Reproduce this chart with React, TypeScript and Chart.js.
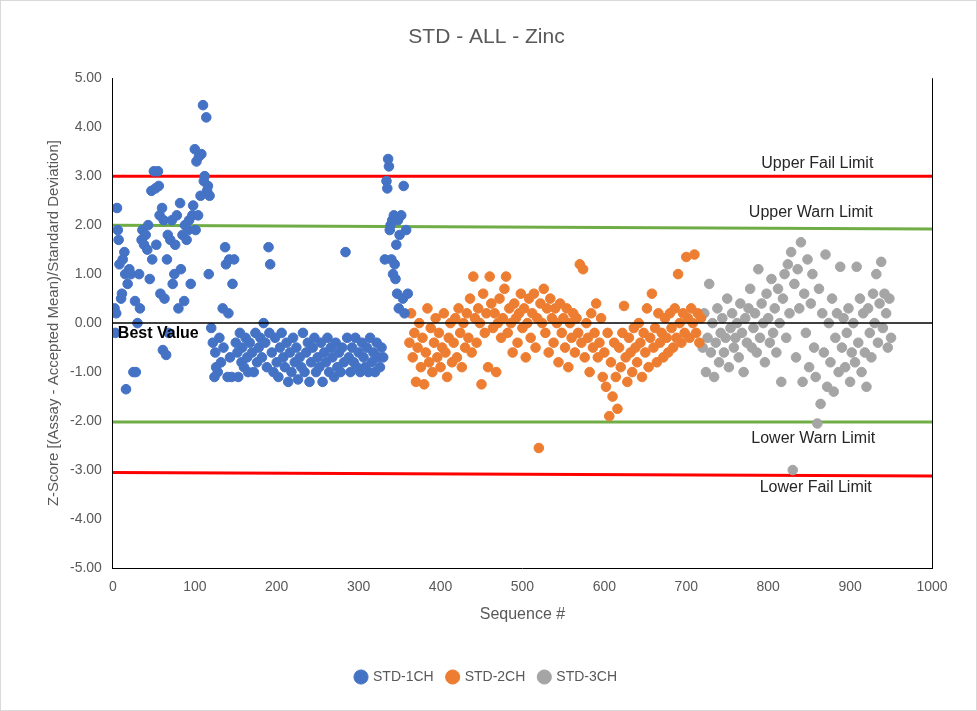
import React, { useEffect, useRef } from "react";
import { Chart, registerables } from "chart.js";
Chart.register(...registerables);

const std1: [number, number][] = [[2,0.3],[3,-0.2],[4,0.2],[5,2.35],[6,1.9],[7,1.7],[8,1.2],[10,0.5],[11,0.6],[12,1.3],[14,1.45],[15,1.0],[16,-1.35],[18,0.8],[20,1.1],[22,1.0],[25,-1.0],[27,0.45],[28,-1.0],[30,0.0],[32,1.0],[33,0.3],[35,1.7],[36,1.9],[38,1.6],[40,1.8],[42,1.5],[43,2.0],[45,0.9],[47,2.7],[48,1.3],[50,3.1],[52,2.75],[53,1.6],[55,3.1],[56,2.8],[57,2.2],[58,0.6],[60,2.35],[61,-0.55],[62,2.1],[63,0.5],[65,-0.65],[66,1.3],[67,1.8],[68,-0.2],[70,1.7],[72,2.1],[73,0.8],[75,1.0],[76,1.6],[78,2.2],[80,0.3],[82,2.45],[83,1.1],[85,1.8],[87,0.45],[88,2.0],[90,1.7],[92,1.9],[93,2.1],[95,0.8],[97,2.2],[98,2.4],[100,3.55],[101,1.9],[102,3.3],[104,2.2],[105,3.4],[107,2.6],[108,3.45],[110,4.45],[111,2.9],[112,3.0],[114,4.2],[115,2.7],[116,2.8],[117,1.0],[118,2.6],[120,-0.1],[122,-0.4],[124,-1.1],[125,-0.6],[126,-0.9],[128,-1.0],[130,-0.3],[132,-0.8],[134,0.3],[135,-0.5],[137,1.55],[138,1.2],[140,-1.1],[141,0.2],[142,1.3],[143,-0.7],[145,-1.1],[146,0.8],[148,1.3],[150,-0.4],[152,-0.6],[153,-1.1],[155,-0.2],[157,-0.8],[158,-0.5],[160,-0.9],[162,-0.3],[164,-0.7],[165,-1.0],[167,-0.4],[170,-0.6],[172,-1.0],[174,-0.2],[176,-0.8],[178,-0.5],[180,-0.3],[182,-0.7],[184,0.0],[186,-0.4],[188,-0.9],[190,1.55],[191,-0.2],[192,1.2],[194,-0.6],[196,-1.0],[198,-0.3],[200,-0.8],[202,-1.1],[204,-0.5],[206,-0.2],[208,-0.7],[210,-0.9],[212,-0.4],[214,-1.2],[216,-0.6],[218,-1.0],[220,-0.3],[222,-0.8],[224,-0.5],[226,-1.15],[228,-0.7],[230,-0.9],[232,-0.2],[234,-1.0],[236,-0.6],[238,-0.4],[240,-1.2],[242,-0.8],[244,-0.5],[246,-0.3],[248,-1.0],[250,-0.7],[252,-0.9],[254,-0.4],[256,-1.2],[258,-0.6],[260,-0.8],[262,-0.3],[264,-1.0],[266,-0.5],[268,-0.7],[270,-1.1],[272,-0.4],[274,-0.9],[276,-0.6],[278,-1.0],[280,-0.5],[282,-0.8],[284,1.45],[286,-0.3],[288,-0.7],[290,-1.0],[292,-0.5],[294,-0.8],[296,-0.3],[298,-0.9],[300,-0.6],[302,-1.0],[304,-0.4],[306,-0.7],[308,-0.9],[310,-0.5],[312,-1.0],[314,-0.3],[316,-0.8],[318,-0.6],[320,-1.0],[322,-0.4],[324,-0.7],[326,-0.9],[328,-0.5],[330,-0.7],[332,1.3],[334,2.9],[335,2.75],[336,3.35],[337,3.2],[338,1.9],[339,2.0],[340,1.3],[341,2.1],[342,1.0],[343,2.2],[344,1.2],[345,0.9],[346,1.6],[347,0.6],[348,2.1],[349,0.3],[350,1.8],[352,2.2],[354,0.5],[355,2.8],[356,0.2],[358,1.9],[360,0.6]];

const std2: [number, number][] = [[362,-0.4],[364,0.2],[366,-0.7],[368,-0.2],[370,-1.2],[372,-0.5],[374,0.0],[376,-0.9],[378,-0.3],[380,-1.25],[382,-0.6],[384,0.3],[386,-0.8],[388,-0.1],[390,-1.0],[392,-0.4],[394,0.1],[396,-0.7],[398,-0.2],[400,-0.9],[402,-0.5],[404,0.2],[406,-0.6],[408,-1.1],[410,-0.3],[412,0.0],[414,-0.8],[416,-0.4],[418,0.1],[420,-0.7],[422,0.3],[424,-0.2],[426,-0.9],[428,0.0],[430,-0.5],[432,0.2],[434,-0.3],[436,0.5],[438,-0.6],[440,0.95],[442,0.1],[444,-0.4],[446,0.3],[448,0.0],[450,-1.25],[452,0.6],[454,-0.2],[456,0.2],[458,-0.9],[460,0.95],[462,0.4],[464,-0.1],[466,0.2],[468,-1.0],[470,0.0],[472,0.5],[474,-0.3],[476,0.1],[478,0.7],[480,0.95],[482,-0.2],[484,0.3],[486,0.0],[488,-0.6],[490,0.4],[492,0.1],[494,-0.4],[496,0.2],[498,0.6],[500,-0.1],[502,0.3],[504,-0.7],[506,0.0],[508,0.5],[510,-0.3],[512,0.2],[514,0.6],[516,-0.5],[518,0.1],[520,-2.55],[522,0.4],[524,0.0],[526,0.7],[528,-0.2],[530,0.3],[532,-0.6],[534,0.5],[536,0.1],[538,-0.4],[540,0.3],[542,0.0],[544,-0.8],[546,0.4],[548,-0.2],[550,0.1],[552,-0.5],[554,0.3],[556,-0.9],[558,0.0],[560,-0.3],[562,0.2],[564,-0.6],[566,0.1],[568,-0.2],[570,1.2],[572,-0.4],[574,1.1],[576,-0.7],[578,0.0],[580,-0.3],[582,-1.0],[584,0.2],[586,-0.5],[588,-0.2],[590,0.4],[592,-0.7],[594,-0.4],[596,0.1],[598,-1.1],[600,-0.6],[602,-1.3],[604,-0.2],[606,-1.9],[608,-0.8],[610,-1.5],[612,-0.4],[614,-1.1],[616,-1.75],[618,-0.5],[620,-0.9],[622,-0.2],[624,0.35],[626,-0.7],[628,-1.2],[630,-0.3],[632,-0.6],[634,-1.0],[636,-0.1],[638,-0.5],[640,-0.8],[642,0.0],[644,-0.4],[646,-1.1],[648,-0.2],[650,-0.6],[652,0.3],[654,-0.9],[656,-0.3],[658,0.6],[660,-0.5],[662,-0.1],[664,-0.8],[666,0.2],[668,-0.4],[670,-0.2],[672,-0.7],[674,0.1],[676,-0.3],[678,-0.6],[680,0.2],[682,-0.1],[684,-0.5],[686,0.3],[688,-0.3],[690,1.0],[692,0.0],[694,-0.4],[696,0.2],[698,-0.2],[700,1.35],[702,0.1],[704,-0.3],[706,0.3],[708,0.0],[710,1.4],[712,-0.2],[714,0.2],[716,-0.4],[718,0.1]];

const std3: [number, number][] = [[720,-0.5],[722,0.2],[724,-1.0],[726,-0.3],[728,0.8],[730,-0.6],[732,0.0],[734,-1.1],[736,-0.4],[738,0.3],[740,-0.8],[742,-0.2],[744,0.1],[746,-0.6],[748,-0.3],[750,0.5],[752,-0.9],[754,-0.1],[756,0.2],[758,-0.5],[760,-0.3],[762,0.0],[764,-0.7],[766,0.4],[768,-0.2],[770,-1.0],[772,0.1],[774,-0.4],[776,0.3],[778,0.7],[780,-0.5],[782,-0.1],[784,0.2],[786,-0.6],[788,1.1],[790,-0.3],[792,0.4],[794,0.0],[796,-0.8],[798,0.6],[800,0.1],[802,-0.4],[804,0.9],[806,-0.2],[808,0.3],[810,-0.6],[812,0.7],[814,0.0],[816,-1.2],[818,0.5],[820,1.0],[822,-0.3],[824,1.2],[826,0.2],[828,1.45],[830,-3.0],[832,0.8],[834,-0.7],[836,1.1],[838,0.3],[840,1.65],[842,-1.2],[844,0.6],[846,-0.2],[848,1.3],[850,-0.9],[852,0.4],[854,1.0],[856,-0.5],[858,-1.1],[860,-2.05],[862,0.7],[864,-1.65],[866,0.2],[868,-0.6],[870,1.4],[872,-1.3],[874,0.0],[876,-0.8],[878,0.5],[880,-1.4],[882,-0.3],[884,0.2],[886,-1.0],[888,1.15],[890,-0.5],[892,0.1],[894,-0.9],[896,-0.2],[898,0.3],[900,-1.2],[902,-0.6],[904,0.0],[906,-0.8],[908,1.15],[910,-0.4],[912,0.5],[914,-1.0],[916,0.2],[918,-0.6],[920,-1.3],[922,0.3],[924,-0.2],[926,-0.7],[928,0.6],[930,0.0],[932,1.0],[934,-0.4],[936,0.4],[938,1.25],[940,-0.1],[942,0.6],[944,0.2],[946,-0.5],[948,0.5],[950,-0.3]];

const upperFail: [number, number][] = [[0, 3.0], [1000, 3.0]];
const upperWarn: [number, number][] = [[0, 2.0], [1000, 1.92]];
const lowerWarn: [number, number][] = [[0, -2.02], [1000, -2.02]];
const lowerFail: [number, number][] = [[0, -3.05], [1000, -3.12]];
const bestValue: [number, number][] = [[0, 0], [1000, 0]];

const limitLabels: { text: string; x: number; y: number; bold?: boolean; align: CanvasTextAlign }[] = [
  { text: "Upper Fail Limit", x: 860, y: 3.25, align: "center" },
  { text: "Upper Warn Limit", x: 852, y: 2.25, align: "center" },
  { text: "Lower Warn Limit", x: 855, y: -2.35, align: "center" },
  { text: "Lower Fail Limit", x: 858, y: -3.35, align: "center" },
  { text: "Best Value", x: 6, y: -0.22, align: "left", bold: true },
];

const FONT = "'Liberation Sans', Arial, sans-serif";
const toPts = (a: [number, number][]) => a.map(([x, y]) => ({ x, y }));

export default function App() {
  const ref = useRef<HTMLCanvasElement>(null);
  useEffect(() => {
    document.body.style.margin = "0";
    const labelPlugin = {
      id: "labels",
      afterDatasetsDraw(chart: any) {
        const { ctx, scales, chartArea } = chart;
        ctx.save();
        ctx.strokeStyle = "#000";
        ctx.lineWidth = 1;
        ctx.beginPath();
        ctx.moveTo(chartArea.right + 0.5, chartArea.top);
        ctx.lineTo(chartArea.right + 0.5, chartArea.bottom);
        ctx.stroke();
        ctx.textBaseline = "middle";
        for (const l of limitLabels) {
          ctx.font = (l.bold ? "bold 16px " : "16px ") + FONT;
          ctx.fillStyle = l.bold ? "#000" : "#262626";
          ctx.textAlign = l.align;
          ctx.fillText(l.text, scales.x.getPixelForValue(l.x), scales.y.getPixelForValue(l.y));
        }
        ctx.restore();
      },
    };
    const pt = (label: string, data: any, color: string) => ({
      type: "scatter" as const, label, data: toPts(data), backgroundColor: color, borderColor: color,
      pointRadius: 4.8, pointHoverRadius: 4.8,
    });
    const ln = (label: string, data: any, color: string, w: number) => ({
      type: "line" as const, label, data: toPts(data), borderColor: color, borderWidth: w,
      pointRadius: 0, fill: false, showLine: true,
    });
    const chart = new Chart(ref.current!, {
      type: "scatter",
      data: {
        datasets: [
          ln("Best", bestValue, "#000", 1.5),
          pt("STD-1CH", std1, "#4472C4"),
          pt("STD-2CH", std2, "#ED7D31"),
          pt("STD-3CH", std3, "#A5A5A5"),
          ln("UF", upperFail, "#FF0000", 3),
          ln("UW", upperWarn, "#70AD47", 3),
          ln("LW", lowerWarn, "#70AD47", 3),
          ln("LF", lowerFail, "#FF0000", 3),
        ] as any,
      },
      options: {
        animation: false,
        responsive: false,
        layout: { padding: { left: 40, right: 44, top: 10, bottom: 16 } },
        plugins: {
          title: { display: true, text: "STD - ALL - Zinc", color: "#595959", font: { family: FONT, size: 21, weight: "normal" }, padding: { top: 14, bottom: 28 } },
          legend: {
            position: "bottom",
            labels: {
              filter: (i: any) => i.text.startsWith("STD"),
              usePointStyle: true, pointStyle: "circle", boxWidth: 10, boxHeight: 10,
              color: "#595959", font: { family: FONT, size: 14 }, padding: 14,
            },
          },
          tooltip: { enabled: false },
        },
        scales: {
          x: {
            type: "linear", min: 0, max: 1000,
            ticks: { stepSize: 100, color: "#595959", font: { family: FONT, size: 14 }, callback: (v: any) => String(v) },
            grid: { display: false },
            border: { color: "#000", width: 1 },
            title: { display: true, text: "Sequence #", color: "#595959", font: { family: FONT, size: 16 }, padding: { top: 6, bottom: 32 } },
          },
          y: {
            min: -5, max: 5,
            ticks: { stepSize: 1, color: "#595959", font: { family: FONT, size: 14 }, callback: (v: any) => Number(v).toFixed(2) },
            grid: { display: false },
            border: { color: "#000", width: 1 },
            title: { display: true, text: "Z-Score [(Assay - Accepted Mean)/Standard Deviation]", color: "#595959", font: { family: FONT, size: 15 } },
          },
        },
      } as any,
      plugins: [labelPlugin],
    });
    return () => chart.destroy();
  }, []);
  return (
    <div style={{ width: 977, height: 711, boxSizing: "border-box", border: "1px solid #d9d9d9", background: "#fff" }}>
      <canvas ref={ref} width={975} height={709} />
    </div>
  );
}
